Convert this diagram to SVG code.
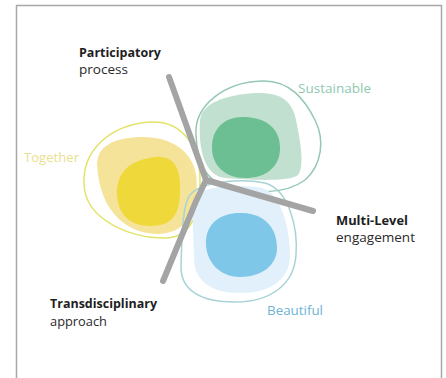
<svg xmlns="http://www.w3.org/2000/svg" width="446" height="378" viewBox="0 0 446 378">
<style>
.lbl{font-family:"Open Sans","Liberation Sans",sans-serif;font-size:12.5px}
.b{font-weight:bold;fill:#1e1e1e}
.n{fill:#2a2a2a}
.outline{fill:none;stroke-width:1.5}
.arm{fill:none;stroke:#a4a4a4;stroke-width:6;stroke-linecap:round;stroke-linejoin:round}
</style>
<rect x="0" y="0" width="446" height="378" fill="#ffffff"/>
<path d="M16.5 378 V5.5 H441.5 V378" fill="none" stroke="#a8a8a8" stroke-width="1.5"/>

<g id="together">
<path class="outline" stroke="#e2e46a" d="M84 185 C82 150 110 125 150 122 C185 120 200 150 200 180 C200 215 190 238 165 238 C130 238 86 220 84 185 Z"/>
<path fill="#f5e39a" d="M97 165 C97 145 115 138 140 137 C170 136 192 150 196 175 C200 205 190 232 160 234 C130 235 100 215 97 165 Z"/>
<path fill="#efd93a" d="M117 195 C116 172 130 160 155 157 C175 155 181 170 180 190 C180 215 172 226 150 226 C128 226 118 212 117 195 Z"/>
<text class="lbl" x="24" y="162" fill="#e9df8e" textLength="55" lengthAdjust="spacingAndGlyphs">Together</text>
</g>

<g id="sustainable">
<path class="outline" stroke="#94c7b4" d="M196 135 C194 105 225 82 262 81 C290 80 305 100 315 120 C325 140 322 165 305 180 C285 195 250 194 225 186 C205 180 197 160 196 135 Z"/>
<path fill="#c2e0cf" d="M200 120 C202 103 225 95 255 93 C280 92 292 100 296 120 C300 140 305 165 298 175 C290 182 250 180 225 178 C205 176 198 150 200 120 Z"/>
<path fill="#6cbf92" d="M212 148 C212 128 225 116 245 117 C268 118 281 130 280 150 C279 168 265 178 245 178 C225 178 212 165 212 148 Z"/>
<text class="lbl" x="298" y="93" fill="#8fc9b0" textLength="73" lengthAdjust="spacingAndGlyphs">Sustainable</text>
</g>

<g id="beautiful">
<path class="outline" stroke="#a8d3d6" d="M190 195 C200 182 240 178 265 183 C290 190 298 230 296 255 C294 285 270 302 235 302 C200 302 180 290 181 265 C182 240 182 205 190 195 Z"/>
<path fill="#e1f0fa" d="M196 195 C205 186 240 184 262 188 C282 194 290 230 290 255 C290 280 270 293 240 293 C210 293 194 280 194 258 C194 235 190 202 196 195 Z"/>
<path fill="#7fc7e8" d="M206 243 C206 222 222 212 243 213 C265 214 277 228 277 248 C277 265 262 277 240 277 C220 277 206 262 206 243 Z"/>
<text class="lbl" x="267" y="315" fill="#6db4d6" textLength="56" lengthAdjust="spacingAndGlyphs">Beautiful</text>
</g>

<g id="connectors">
<path class="arm" d="M169 77 L206 180 L313 211"/>
<path class="arm" d="M206 180 C198 196 192 210 187 223 L163 281"/>
</g>

<g id="participatory">
<text class="lbl b" x="79" y="57" textLength="82" lengthAdjust="spacingAndGlyphs">Participatory</text>
<text class="lbl n" x="79" y="74" textLength="49" lengthAdjust="spacingAndGlyphs">process</text>
</g>
<g id="multilevel">
<text class="lbl b" x="336" y="225" textLength="72" lengthAdjust="spacingAndGlyphs">Multi-Level</text>
<text class="lbl n" x="336" y="242" textLength="79" lengthAdjust="spacingAndGlyphs">engagement</text>
</g>
<g id="transdisciplinary">
<text class="lbl b" x="50" y="308" textLength="107" lengthAdjust="spacingAndGlyphs">Transdisciplinary</text>
<text class="lbl n" x="50" y="326" textLength="57" lengthAdjust="spacingAndGlyphs">approach</text>
</g>
</svg>
